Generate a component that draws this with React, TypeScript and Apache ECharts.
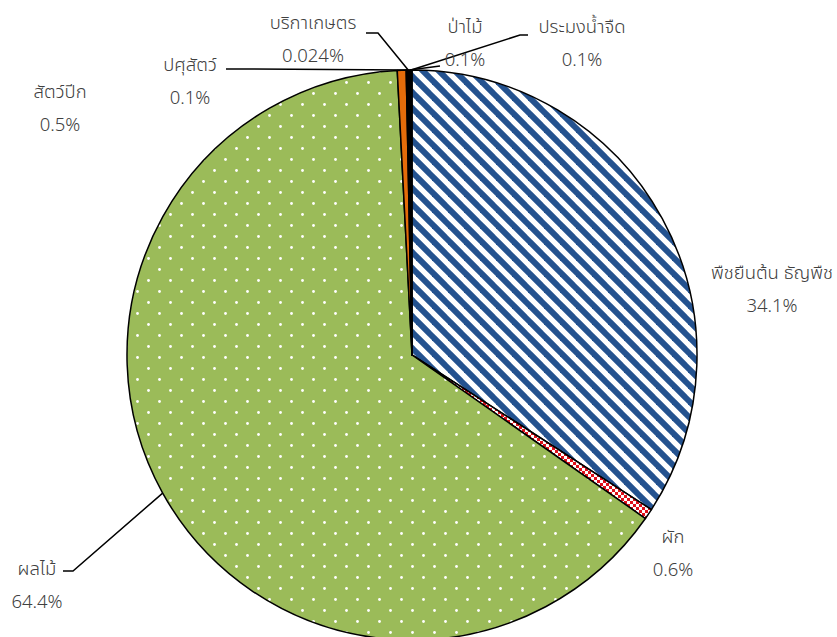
import React, { useEffect, useRef } from "react";
import * as echarts from "echarts";

const categories = [
  "พืชยืนต้น ธัญพืช",
  "ผัก",
  "ผลไม้",
  "สัตว์ปีก",
  "ปศุสัตว์",
  "บริกาเกษตร",
  "ป่าไม้",
  "ประมงน้ำจืด",
];
const values = [34.1, 0.6, 64.4, 0.5, 0.1, 0.024, 0.1, 0.1];

// label block centres (style)
const labelPos: [number, number][] = [
  [772, 288],
  [673, 552],
  [37, 584],
  [60, 107],
  [190, 80],
  [313, 38],
  [465, 42],
  [582, 42],
];
// leader line: [elbow, end] or null
const leaders: ([number, number][] | null)[] = [
  null,
  null,
  [[73, 571], [63, 571]],
  null,
  [[236, 69], [226, 69]],
  [[378, 33], [366, 33]],
  [[440, 66], [440, 66]],
  [[520, 35], [528, 35]],
];

function makeStripes() {
  const c = document.createElement("canvas");
  c.width = 16;
  c.height = 16;
  const g = c.getContext("2d")!;
  g.fillStyle = "#ffffff";
  g.fillRect(0, 0, 16, 16);
  g.strokeStyle = "#24528f";
  g.lineWidth = 6;
  for (const k of [-16, 0, 16]) {
    g.beginPath();
    g.moveTo(-2, k - 2);
    g.lineTo(18, k + 18);
    g.stroke();
  }
  return c;
}
function makeDots() {
  const c = document.createElement("canvas");
  c.width = 22;
  c.height = 22;
  const g = c.getContext("2d")!;
  g.fillStyle = "#9bbb59";
  g.fillRect(0, 0, 22, 22);
  g.fillStyle = "#ffffff";
  for (const [x, y] of [[5.5, 5.5], [16.5, 16.5]]) {
    g.beginPath();
    g.arc(x, y, 1.4, 0, Math.PI * 2);
    g.fill();
  }
  return c;
}
function makeChecker() {
  const c = document.createElement("canvas");
  c.width = 6;
  c.height = 6;
  const g = c.getContext("2d")!;
  g.fillStyle = "#e0101a";
  g.fillRect(0, 0, 6, 6);
  g.fillStyle = "#ffffff";
  g.fillRect(0, 0, 3, 3);
  g.fillRect(3, 3, 3, 3);
  return c;
}

export default function App() {
  const ref = useRef<HTMLDivElement>(null);
  useEffect(() => {
    if (!ref.current) return;
    const chart = echarts.init(ref.current, undefined, { renderer: "svg" });
    const fills: any[] = [
      { image: makeStripes(), repeat: "repeat" },
      { image: makeChecker(), repeat: "repeat" },
      { image: makeDots(), repeat: "repeat" },
      "#e46c0a",
      "#000000",
      "#000000",
      "#000000",
      "#000000",
    ];
    const data = categories.map((name, i) => ({
      name,
      value: values[i],
      itemStyle: { color: fills[i] },
      labelLine: { show: !!leaders[i] },
    }));
    chart.setOption({
      animation: false,
      backgroundColor: "#ffffff",
      series: [
        {
          type: "pie",
          center: [412, 355],
          radius: [0, 285],
          startAngle: 90,
          clockwise: true,
          avoidLabelOverlap: false,
          data,
          itemStyle: { borderColor: "#000000", borderWidth: 1.5 },
          label: {
            show: true,
            position: "outside",
            formatter: (p: any) => `${p.name}\n${p.value}%`,
            color: "#404040",
            fontSize: 18.5,
            fontWeight: 300,
            lineHeight: 33,
            fontFamily: '"Noto Sans", "Noto Sans Thai", Tahoma, sans-serif',
            align: "center",
          },
          labelLine: {
            show: true,
            lineStyle: { color: "#000000", width: 1.5 },
            smooth: false,
          },
          labelLayout: (params: any) => {
            const i = params.dataIndex;
            const [x, y] = labelPos[i];
            const res: any = { x, y, align: "center", verticalAlign: "middle" };
            const l = leaders[i];
            if (l && params.labelLinePoints) {
              res.labelLinePoints = [params.labelLinePoints[0], l[0], l[1]];
            }
            return res;
          },
        },
      ],
    });
    return () => chart.dispose();
  }, []);
  return (
    <div
      ref={ref}
      style={{ position: "fixed", left: 0, top: 0, width: 837, height: 637 }}
    />
  );
}
